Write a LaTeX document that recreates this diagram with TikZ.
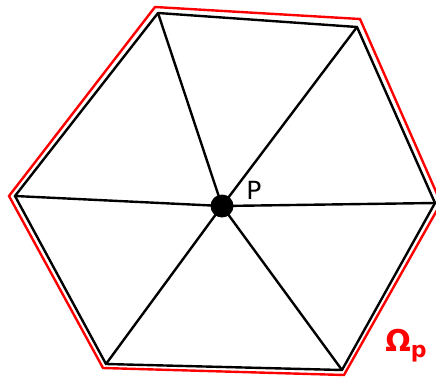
\documentclass[tikz,border=0pt]{standalone}
\usepackage{fontspec}
\setmainfont{DejaVu Sans}
\begin{document}
\begin{tikzpicture}[x=1pt,y=-1pt,
  edge/.style={black,line width=2.4pt,line join=miter},
  outline/.style={red,line width=2.4pt,line join=miter}]
\useasboundingbox (0,0) rectangle (436,377);
\coordinate (A) at (158,13);
\coordinate (B) at (357,27);
\coordinate (C) at (435,203);
\coordinate (D) at (342,370);
\coordinate (E) at (106,364);
\coordinate (F) at (15,196);
\coordinate (RA) at (155,7);
\coordinate (RB) at (360,19);
\coordinate (RC) at (441,203);
\coordinate (RD) at (344,375);
\coordinate (RE) at (103,368);
\coordinate (RF) at (9,196);
\draw[outline] (RA) -- (RB) -- (RC) -- (RD) -- (RE) -- (RF) -- cycle;
\draw[edge] (A) -- (B) -- (C) -- (D) -- (E) -- (F) -- cycle;
\node[circle,fill=black,inner sep=0pt,minimum size=23pt] (P) at (222,206) {};
\foreach \v in {A,B,C,D,E,F} \draw[edge] (P.center) -- (\v);
\node[font=\fontsize{25}{25}\selectfont,anchor=center] (Pl) at (254,190) {P};
\node[font=\fontsize{30}{30}\selectfont\bfseries,text=red,anchor=center] (Om) at (406,346) {Ω\raisebox{-6pt}{\fontsize{22}{22}\selectfont\bfseries p}};
\end{tikzpicture}
\end{document}
